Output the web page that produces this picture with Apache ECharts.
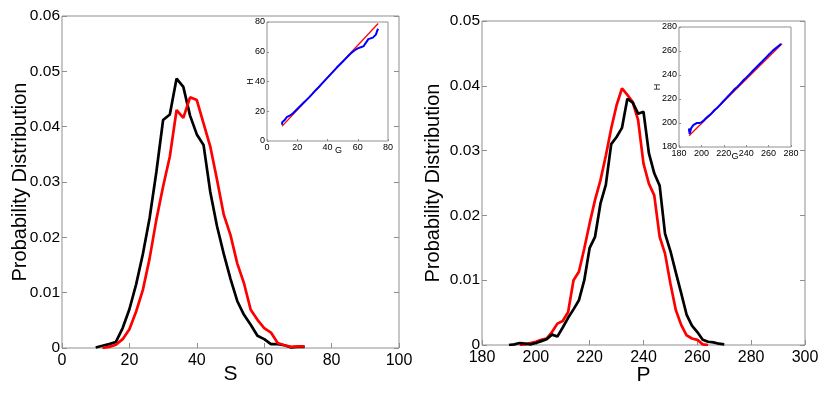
<!DOCTYPE html>
<html>
<head>
<meta charset="utf-8">
<script src="https://cdn.jsdelivr.net/npm/echarts@6/dist/echarts.min.js"></script>
<style>
    html, body { margin: 0; padding: 0; background: #fff; }
    #chart { width: 830px; height: 393px; }
</style>
</head>
<body>
<div id="chart"></div>
<script>
// left panel: S distribution
var sX = [10,12,14,16,18,20,22,24,26,28,30,32,34,36,38,40,42,44,46,48,50,52,54,56,58,60,62,64,66,68,70,72];
var sBlack = [0.0001,0.0004,0.0007,0.0011,0.0036,0.0070,0.0115,0.0170,0.0235,0.0318,0.0412,0.0422,0.0487,0.0472,0.0420,0.0386,
              0.0367,0.0282,0.0220,0.0170,0.0125,0.0085,0.0060,0.0042,0.0022,0.0016,0.0007,0.0007,0.0005,0.0001,0.0002,0.0002];
var sRed = [null,0.0000,0.0002,0.0006,0.0016,0.0034,0.0066,0.0105,0.0162,0.0232,0.0292,0.0346,0.0430,0.0416,0.0453,0.0448,
            0.0406,0.0364,0.0304,0.0241,0.0204,0.0153,0.0117,0.0069,0.0051,0.0036,0.0028,0.0009,0.0005,0.0002,0.0003,0.0003];

// right panel: P distribution
var pX = [190,192,194,196,198,200,202,204,206,208,210,212,214,216,218,220,222,224,226,228,
          230,232,234,236,238,240,242,244,246,248,250,252,254,256,258,260,262,264,266,268,270];
var pBlack = [0.0000,0.0001,0.0003,0.0002,0.0001,0.0003,0.0006,0.0009,0.0016,0.0013,
              0.0027,0.0042,0.0055,0.0069,0.0100,0.0150,0.0167,0.0218,0.0247,0.0310,
              0.0321,0.0335,0.0380,0.0374,0.0357,0.0360,0.0296,0.0265,0.0246,0.0172,
              0.0145,0.0112,0.0080,0.0047,0.0030,0.0020,0.0008,0.0005,0.0004,0.0002,0.0001];
var pRed = [null,null,0.0000,0.0001,0.0003,0.0005,0.0008,0.0010,0.0020,0.0033,
            0.0037,0.0051,0.0100,0.0113,0.0149,0.0188,0.0224,0.0254,0.0292,0.0334,
            0.0370,0.0396,0.0386,0.0375,0.0347,0.0280,0.0249,0.0231,0.0167,0.0141,
            0.0095,0.0054,0.0031,0.0015,0.0010,0.0008,0.0001,0.0000,null,null,null];

// insets: H vs G
var leftInsetRed = [[10,10],[73.5,79]];
var leftInsetBlue = [[10,11],[10,12.5],[10.5,13.5],[11,13],[12,14.5],[13,16],[14,16.5],[15,17],[16,17.5],[17,18.5],
                     [18,19.5],[19,20.5],[20,21.5],[22,23.5],[24,25.5],[26,27.5],[28,29.5],[30,31.7],[32,34],[34,36],
                     [36,38.2],[38,40.4],[40,42.6],[42,44.8],[44,47],[46,49.2],[48,51.3],[50,53.3],[52,55.4],[54,57.5],
                     [56,59.4],[58,61],[60,62.3],[62,63],[64,63.8],[65,65.5],[66,67],[67,68.5],[68,69],[70,69.5],
                     [71,70.5],[72,71.5],[73,72.5],[73,74.5],[73.5,75.5]];
var rightInsetRed = [[189,189.4],[272,266]];
var rightInsetBlue = [[189,193],[189,195.5],[189.5,191],[191,196],[192,197.5],[193,198.5],[194,199.5],[196,200],[198,200],
                      [200,200.5],[202,202],[204,204],[206,205.5],[208,207],[210,209],[212,211],[214,212.5],[216,214.5],
                      [218,216.5],[220,218.5],[222,220.5],[224,222.5],[226,224.5],[228,226.5],[230,228.5],[232,230],
                      [234,232],[236,234],[238,236],[240,237.8],[242,239.7],[244,241.6],[246,243.5],[248,245.4],
                      [250,247.3],[252,249.2],[254,251],[256,253],[258,254.8],[260,256.8],[262,258.6],[264,260.5],
                      [266,262],[268,263.5],[270,265],[271,266]];

function pairs(xs, ys) {
    var out = [];
    for (var i = 0; i < xs.length; i++) {
        out.push([xs[i], ys[i]]);
    }
    return out;
}

var font = 'Liberation Sans';
var gray = '#8f8f8f';

function mainX(idx, min, max, name, gap) {
    return {
        type: 'value', gridIndex: idx, min: min, max: max, interval: 20,
        axisLine: { show: false },
        axisTick: { inside: true, length: 5, lineStyle: { color: gray } },
        axisLabel: { color: '#000', fontSize: 16, fontFamily: font, margin: 5 },
        splitLine: { show: false },
        name: name, nameLocation: 'middle', nameGap: gap, nameMoveOverlap: false,
        nameTextStyle: { color: '#000', fontSize: 21, fontFamily: font }
    };
}
function mainY(idx, max, gap) {
    return {
        type: 'value', gridIndex: idx, min: 0, max: max, interval: 0.01,
        axisLine: { show: false },
        axisTick: { inside: true, length: 5, lineStyle: { color: gray } },
        axisLabel: { color: '#000', fontSize: 15.5, fontFamily: font, margin: 2 },
        splitLine: { show: false },
        name: 'Probability Distribution', nameLocation: 'middle', nameGap: gap, nameMoveOverlap: false,
        nameTextStyle: { color: '#000', fontSize: 20, fontFamily: font }
    };
}
function rightTicks(idx, max) {
    return {
        type: 'value', gridIndex: idx, position: 'right', min: 0, max: max, interval: 0.01,
        axisLine: { show: false },
        axisTick: { inside: true, length: 5, lineStyle: { color: gray } },
        axisLabel: { show: false }, splitLine: { show: false }
    };
}
function insetAxis(idx, min, max, name, pad, gap) {
    return {
        type: 'value', gridIndex: idx, min: min, max: max, interval: 20, z: 6,
        axisLine: { show: false },
        axisTick: { inside: true, length: 2, lineStyle: { color: gray } },
        axisLabel: { color: '#000', fontSize: 9, fontFamily: font, margin: 2 },
        splitLine: { show: false },
        name: name, nameLocation: 'middle', nameGap: gap, nameMoveOverlap: false,
        nameTextStyle: { color: '#000', fontSize: 9, fontFamily: font, padding: pad }
    };
}

var myChart = echarts.init(document.getElementById('chart'));
var option = {
    backgroundColor: '#fff',
    animation: false,
    grid: [
        { left: 62, top: 16, width: 337, height: 332, show: true, borderColor: gray, borderWidth: 1 },
        { left: 267, top: 22, width: 121, height: 119, show: true, borderColor: gray, borderWidth: 1, backgroundColor: '#fff', z: 5 },
        { left: 482, top: 21, width: 323, height: 324, show: true, borderColor: gray, borderWidth: 1 },
        { left: 679, top: 27, width: 112, height: 120, show: true, borderColor: gray, borderWidth: 1, backgroundColor: '#fff', z: 5 }
    ],
    xAxis: [
        mainX(0, 0, 100, 'S', 16),
        insetAxis(1, 0, 80, 'G', [0, 0, 0, 22], 5),
        mainX(2, 180, 300, 'P', 19.5),
        insetAxis(3, 180, 280, 'G', [0, 0, 0, 0], 5)
    ],
    yAxis: [
        mainY(0, 0.06, 32),
        insetAxis(1, 0, 80, 'H', 0, 12),
        mainY(2, 0.05, 39),
        insetAxis(3, 180, 280, 'H', 0, 17),
        rightTicks(0, 0.06),
        rightTicks(2, 0.05)
    ],
    series: [
        { type: 'line', xAxisIndex: 0, yAxisIndex: 0, data: pairs(sX, sBlack), showSymbol: false,
          lineStyle: { color: '#000', width: 2.7 } },
        { type: 'line', xAxisIndex: 0, yAxisIndex: 0, data: pairs(sX, sRed), showSymbol: false,
          lineStyle: { color: '#ff0000', width: 2.7 } },
        { type: 'line', xAxisIndex: 2, yAxisIndex: 2, data: pairs(pX, pRed), showSymbol: false,
          lineStyle: { color: '#ff0000', width: 2.7 } },
        { type: 'line', xAxisIndex: 2, yAxisIndex: 2, data: pairs(pX, pBlack), showSymbol: false,
          lineStyle: { color: '#000', width: 2.7 } },
        { type: 'line', xAxisIndex: 1, yAxisIndex: 1, data: leftInsetRed, showSymbol: false, z: 7,
          lineStyle: { color: '#ff0000', width: 1.3 } },
        { type: 'line', xAxisIndex: 1, yAxisIndex: 1, data: leftInsetBlue, showSymbol: false, z: 8,
          lineStyle: { color: '#0000ff', width: 2 } },
        { type: 'line', xAxisIndex: 3, yAxisIndex: 3, data: rightInsetRed, showSymbol: false, z: 7,
          lineStyle: { color: '#ff0000', width: 1.3 } },
        { type: 'line', xAxisIndex: 3, yAxisIndex: 3, data: rightInsetBlue, showSymbol: false, z: 8,
          lineStyle: { color: '#0000ff', width: 2 } }
    ]
};
myChart.setOption(option);
</script>
</body>
</html>
